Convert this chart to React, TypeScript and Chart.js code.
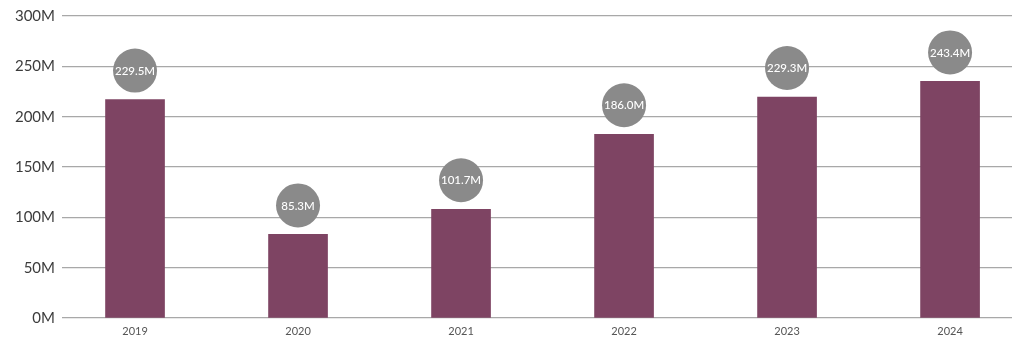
import React, { useEffect, useRef } from "react";
import { Chart, registerables } from "chart.js";

Chart.register(...registerables);

const years = [2019, 2020, 2021, 2022, 2023, 2024];
const barValues = [217, 83, 108, 182.5, 219.5, 235];
const bubbleLabels = ["229.5M", "85.3M", "101.7M", "186.0M", "229.3M", "243.4M"];
const yTicks = [0, 50, 100, 150, 200, 250, 300];

const BAR_COLOR = "#7e4463";
const BUBBLE_COLOR = "#8a8a8a";
const FONT = "Lato, 'Open Sans', sans-serif";

const bubblePlugin = {
  id: "bubbles",
  afterDatasetsDraw(chart: any) {
    const meta = chart.getDatasetMeta(0);
    const ctx = chart.ctx;
    ctx.save();
    meta.data.forEach((bar: any, i: number) => {
      const cx = bar.x;
      const cy = bar.y - 29;
      ctx.beginPath();
      ctx.arc(cx, cy, 22, 0, Math.PI * 2);
      ctx.fillStyle = BUBBLE_COLOR;
      ctx.fill();
      ctx.fillStyle = "#ffffff";
      ctx.font = `500 11.5px ${FONT}`;
      ctx.textAlign = "center";
      ctx.textBaseline = "middle";
      ctx.fillText(bubbleLabels[i], cx, cy + 0.5);
    });
    ctx.restore();
  },
};

export default function App() {
  const ref = useRef<HTMLCanvasElement | null>(null);
  useEffect(() => {
    if (!ref.current) return;
    const chart = new Chart(ref.current, {
      type: "bar",
      data: {
        datasets: [
          {
            data: years.map((y, i) => ({ x: y, y: barValues[i] })),
            backgroundColor: BAR_COLOR,
            barThickness: 59,
            borderWidth: 0,
          },
        ],
      },
      plugins: [bubblePlugin],
      options: {
        animation: false,
        responsive: true,
        maintainAspectRatio: false,
        layout: { padding: { top: 15, right: 12, left: 0, bottom: 0 } },
        plugins: { legend: { display: false }, tooltip: { enabled: false } },
        scales: {
          x: {
            type: "linear",
            offset: false,
            min: 2018.552,
            max: 2024.38,
            grid: { display: false, drawTicks: false },
            border: { display: false },
            ticks: {
              stepSize: 1,
              includeBounds: false,
              padding: 7,
              color: "#555555",
              font: { family: FONT, size: 11 },
              callback: (v: any) => (years.includes(Number(v)) ? String(v) : ""),
            },
            afterFit: (s: any) => {
              s.height = 34;
            },
          },
          y: {
            min: 0,
            max: 300,
            afterBuildTicks: (s: any) => {
              s.ticks = yTicks.map((v) => ({ value: v }));
            },
            grid: { color: "#a8a8a8", lineWidth: 1.2, drawTicks: false },
            border: { display: false },
            ticks: {
              padding: 7,
              color: "#3c3c3c",
              font: { family: FONT, size: 15 },
              callback: (v: any) => `${v}M`,
            },
            afterFit: (s: any) => {
              s.width = 62;
            },
          },
        },
      },
    } as any);
    return () => chart.destroy();
  }, []);
  return (
    <div style={{ position: "fixed", left: 0, top: 0, width: 1024, height: 352, background: "#fff" }}>
      <canvas ref={ref} />
    </div>
  );
}
